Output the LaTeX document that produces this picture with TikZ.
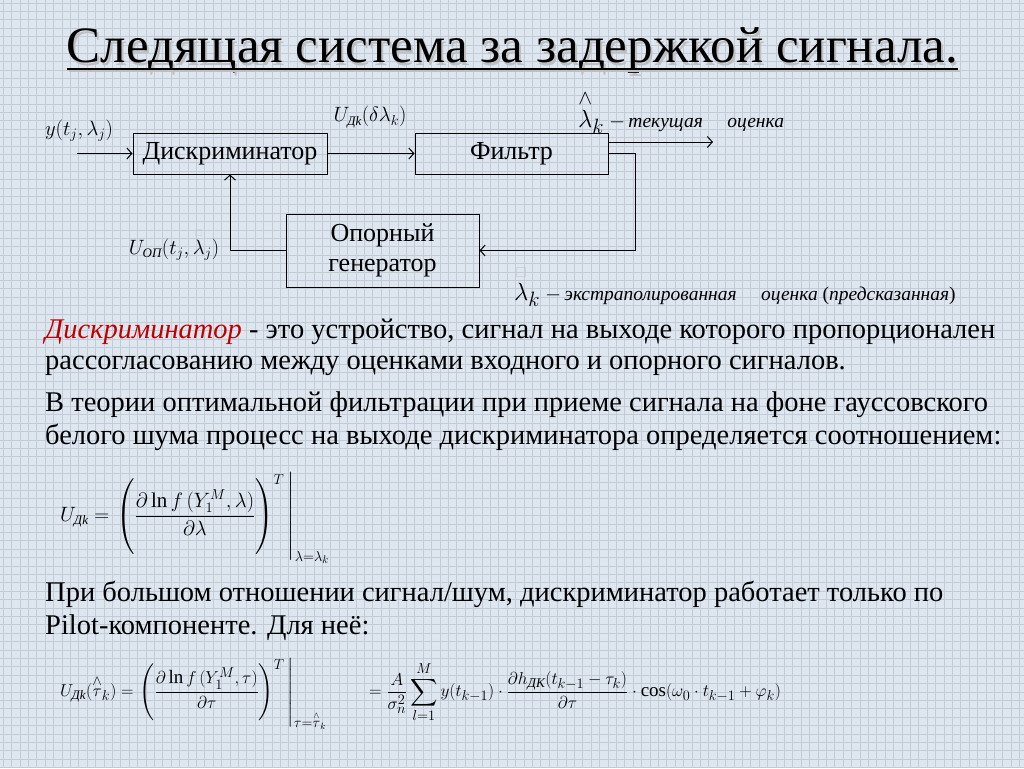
\documentclass[tikz,border=0pt]{standalone}
\usepackage{amsmath}
\usepackage{amssymb}
\usepackage{fontspec}
\setmainfont{Liberation Serif}
\usepackage{tikz}
\usetikzlibrary{positioning}
\usetikzlibrary{arrows.meta}

\definecolor{paper}{HTML}{DEE6F0}
\definecolor{gridc}{HTML}{C3CCD6}
\definecolor{defred}{HTML}{C00000}

\newcommand{\Dk}{\text{\itshape\fontsize{13}{14}\selectfont Дk}}
\newcommand{\DK}{\text{\itshape ДК}}
\newcommand{\gbox}{\textcolor{gray!45}{\scriptscriptstyle\square}}

\begin{document}
\begin{tikzpicture}[x=1pt,y=-1pt,
  block/.style={draw,line width=1pt,inner sep=0pt,font=\fontsize{26}{30}\selectfont},
  sig/.style={-{Straight Barb[length=5pt,width=11pt]},line width=1pt},
  lbl/.style={inner sep=0pt,font=\fontsize{19.5}{22}\selectfont},
  para/.style={anchor=base west,inner sep=0pt,font=\fontsize{28.5}{32}\selectfont}]
  \useasboundingbox (0,0) rectangle (1024,768);
  \fill[paper] (0,0) rectangle (1024,768);
  \foreach \i in {0,...,122} {
    \draw[gridc,line width=0.6pt] (\i*8.4+3,0) -- (\i*8.4+3,768);
  }
  \foreach \j in {0,...,92} {
    \draw[gridc,line width=0.6pt] (0,\j*8.4+3) -- (1024,\j*8.4+3);
  }

  % title
  \node[inner sep=0pt,anchor=base,text=black!25,font=\fontsize{51}{55}\selectfont] at (514.5,65.5) {Следящая система за задержкой сигнала.};
  \node[inner sep=0pt,anchor=base,font=\fontsize{51}{55}\selectfont] (title) at (512.5,63) {Следящая система за задержкой сигнала.};
  \draw[black!25,line width=2pt] ([xshift=2pt,yshift=-8pt]title.base west) -- ([xshift=2pt,yshift=-8pt]title.base east);
  \draw[line width=2pt] ([yshift=-5.5pt]title.base west) -- ([yshift=-5.5pt]title.base east);

  % blocks
  \node[block,minimum width=194,minimum height=41] (disc) at (230,153.5) {Дискриминатор};
  \node[block,minimum width=193,minimum height=41] (filt) at (511.5,153.5) {Фильтр};
  \node[block,minimum width=193,minimum height=73,align=center] (gen) at (382.5,250.5) {Опорный\\генератор};

  \coordinate (in) at (77,153.5);
  \coordinate (out) at (713,142);
  \coordinate (fb) at (635,250.5);
  \draw[sig] (in) -- (disc);
  \draw[sig] (disc) -- (filt);
  \draw[sig] (filt.east |- out) -- (out);
  \draw[sig] (filt.east) -| (fb) -- (gen.east);
  \draw[sig] (gen.west) -| (disc.south);

  % labels
  \node[lbl] (ylab) at (79,131) {$y(t_{j},\lambda_{j})$};
  \node[lbl] (ulab) at (370,117) {$U_{\Dk}(\delta\lambda_{k})$};
  \node[lbl] (uop) at (174,244) {$U_{\text{\itshape\fontsize{13}{14}\selectfont ОП}}(t_{j},\overset{\gbox}{\lambda}_{j})$};
  \node[lbl,anchor=west] (cur) at (578,112) {{\fontsize{28}{30}\selectfont$\overset{\wedge}{\lambda}_{k}$} $-$\,\textit{текущая}\quad\ \textit{оценка}};
  \node[lbl,anchor=west] (ext) at (514,286) {{\fontsize{28}{30}\selectfont$\overset{\gbox}{\lambda}_{k}$} $-$\,\textit{экстраполированная}\quad\ \textit{оценка} (\textit{предсказанная})};

  % text
  \node[para] (p1) at (45,338) {\textcolor{defred}{\textit{Дискриминатор}} - это устройство, сигнал на выходе которого пропорционален};
  \node[para] (p2) at (45,369) {рассогласованию между оценками входного и опорного сигналов.};
  \node[para] (p3) at (45,411) {В теории оптимальной фильтрации при приеме сигнала на фоне гауссовского};
  \node[para] (p4) at (45,444) {белого шума процесс на выходе дискриминатора определяется соотношением:};
  \node[inner sep=0pt,anchor=west,font=\fontsize{21}{25}\selectfont] (eq1) at (60,518)
    {$\displaystyle U_{\Dk}=\left.\left(\rule[-30pt]{0pt}{60pt}\frac{\partial\ln f\,(Y_{1}^{M},\lambda)}{\partial\lambda}\right)^{T}\,\right|_{\lambda=\lambda_{k}}$};
  \node[para] (p5) at (45,601) {При большом отношении сигнал/шум, дискриминатор работает только по};
  \node[para] (p6) at (45,634) {Pilot-компоненте. Для неё:};
  \node[inner sep=0pt,anchor=west,font=\fontsize{19}{22}\selectfont] (eq2) at (60,694)
    {$\displaystyle U_{\Dk}(\overset{\wedge}{\tau}_{k})=\left.\left(\rule[-24pt]{0pt}{48pt}\frac{\partial\ln f\,(Y_{1}^{M},\tau)}{\partial\tau}\right)^{T}\,\right|_{\tau=\overset{\wedge}{\tau}_{k}}\qquad=\frac{A}{\sigma_{n}^{2}}\sum_{l=1}^{M}y(t_{k-1})\cdot\frac{\partial h_{\DK}(t_{k-1}-\tau_{k})}{\partial\tau}\cdot\cos(\omega_{0}\cdot t_{k-1}+\varphi_{k})$};
\end{tikzpicture}
\end{document}
